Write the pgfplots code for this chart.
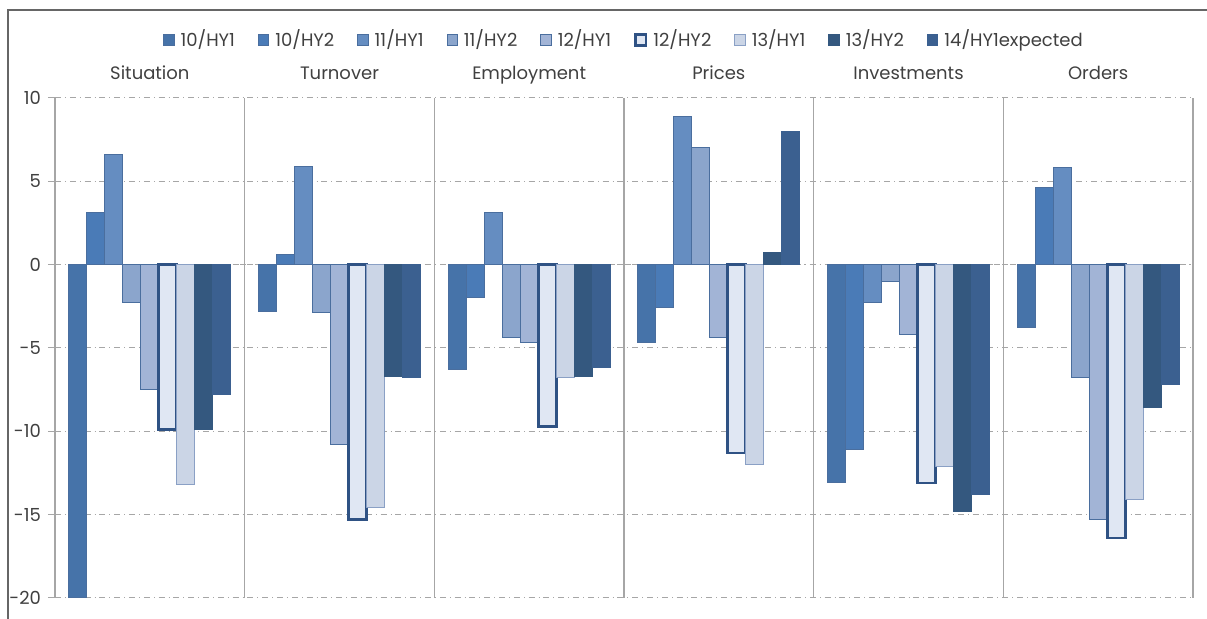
\documentclass[border=0pt]{standalone}
\usepackage{pgfplots}
\pgfplotsset{compat=1.18}
\usepackage{fontspec}
\setmainfont{Poppins}
\definecolor{cA}{HTML}{4673A9}
\definecolor{cB}{HTML}{4A7BB7}
\definecolor{cC}{HTML}{658DC1}
\definecolor{cD}{HTML}{8BA5CC}
\definecolor{cE}{HTML}{A2B4D6}
\definecolor{cF}{HTML}{E0E7F3}
\definecolor{cG}{HTML}{CBD5E6}
\definecolor{cH}{HTML}{34587F}
\definecolor{cI}{HTML}{3B6090}
\definecolor{bd}{HTML}{4A6E9E}
\definecolor{bdF}{HTML}{2F5284}
\definecolor{bdG}{HTML}{8AA0C5}
\definecolor{txt}{HTML}{404040}
\definecolor{gridg}{HTML}{A6A6A6}
\definecolor{zerog}{HTML}{8C8C8C}
\definecolor{frameg}{HTML}{666666}
\begin{document}
\begin{tikzpicture}
\useasboundingbox (0,0) rectangle (603.5pt,309.5pt);
\draw[frameg, line width=1pt] (4pt,0) -- (4pt,304.5pt) -- (603.5pt,304.5pt);
\begin{axis}[
  at={(27.5pt,10.5pt)}, anchor=south west,
  width=569pt, height=250pt, scale only axis,
  xmin=-0.5, xmax=5.5, ymin=-20, ymax=10,
  ybar=0pt, bar width=9pt,
  axis line style={draw=none},
  font=\fontsize{9}{11}\selectfont,
  xtick={0,1,2,3,4,5},
  xticklabels={Situation,Turnover,Employment,Prices,Investments,Orders},
  xticklabel pos=right,
  x tick label style={anchor=base, yshift=5.5pt, text=txt},
  major x tick style={draw=none},
  minor xtick={-0.5,0.5,1.5,2.5,3.5,4.5,5.5},
  minor x tick style={draw=none},
  xminorgrids,
  minor x grid style={solid, color=gridg, line width=0.6pt},
  ytick={-20,-15,-10,-5,0,5,10},
  yticklabels={-20,-15,-10,-5,0,5,10},
  ytick pos=left,
  y tick label style={text=txt},
  tick align=outside, major tick length=3.5pt,
  y tick style={color=gridg, line width=0.5pt},
  ymajorgrids,
  major y grid style={dash dot, color=gridg, line width=0.5pt},
  extra y ticks={0}, extra y tick labels={},
  extra y tick style={grid=major, major grid style={solid, color=zerog, line width=0.7pt}, tick style={draw=none}},
  legend columns=9,
  legend style={at={(0.5,1.116)}, anchor=center, draw=none, fill=none,
    font=\fontsize{9}{11}\selectfont, text=txt,
    /tikz/every odd column/.append style={column sep=2pt},
    /tikz/every even column/.append style={column sep=10.5pt},
    nodes={inner sep=1pt}},
  legend image code/.code={\draw[#1] (0pt,-2.6pt) rectangle (5.2pt,2.6pt);},
]
\addplot[fill=cA, draw=bd, line width=0.5pt] coordinates {(0,-20) (1,-2.8) (2,-6.3) (3,-4.7) (4,-13.1) (5,-3.8)};
\addplot[fill=cB, draw=bd, line width=0.5pt] coordinates {(0,3.1) (1,0.6) (2,-2.0) (3,-2.6) (4,-11.1) (5,4.6)};
\addplot[fill=cC, draw=bd, line width=0.5pt] coordinates {(0,6.6) (1,5.9) (2,3.1) (3,8.9) (4,-2.3) (5,5.8)};
\addplot[fill=cD, draw=bd, line width=0.5pt] coordinates {(0,-2.3) (1,-2.9) (2,-4.4) (3,7.0) (4,-1.0) (5,-6.8)};
\addplot[fill=cE, draw=bd, line width=0.5pt] coordinates {(0,-7.5) (1,-10.8) (2,-4.7) (3,-4.4) (4,-4.2) (5,-15.3)};
\addplot[fill=cF, draw=bdF, line width=1.4pt] coordinates {(0,-9.9) (1,-15.3) (2,-9.7) (3,-11.3) (4,-13.1) (5,-16.4)};
\addplot[fill=cG, draw=bdG, line width=0.5pt] coordinates {(0,-13.2) (1,-14.6) (2,-6.8) (3,-12.0) (4,-12.1) (5,-14.1)};
\addplot[fill=cH, draw=cH, line width=0.5pt] coordinates {(0,-9.9) (1,-6.7) (2,-6.7) (3,0.7) (4,-14.8) (5,-8.6)};
\addplot[fill=cI, draw=cI, line width=0.5pt] coordinates {(0,-7.8) (1,-6.8) (2,-6.2) (3,8.0) (4,-13.8) (5,-7.2)};
\legend{10/HY1,10/HY2,11/HY1,11/HY2,12/HY1,12/HY2,13/HY1,13/HY2,14/HY1expected}
\end{axis}
\end{tikzpicture}
\end{document}
